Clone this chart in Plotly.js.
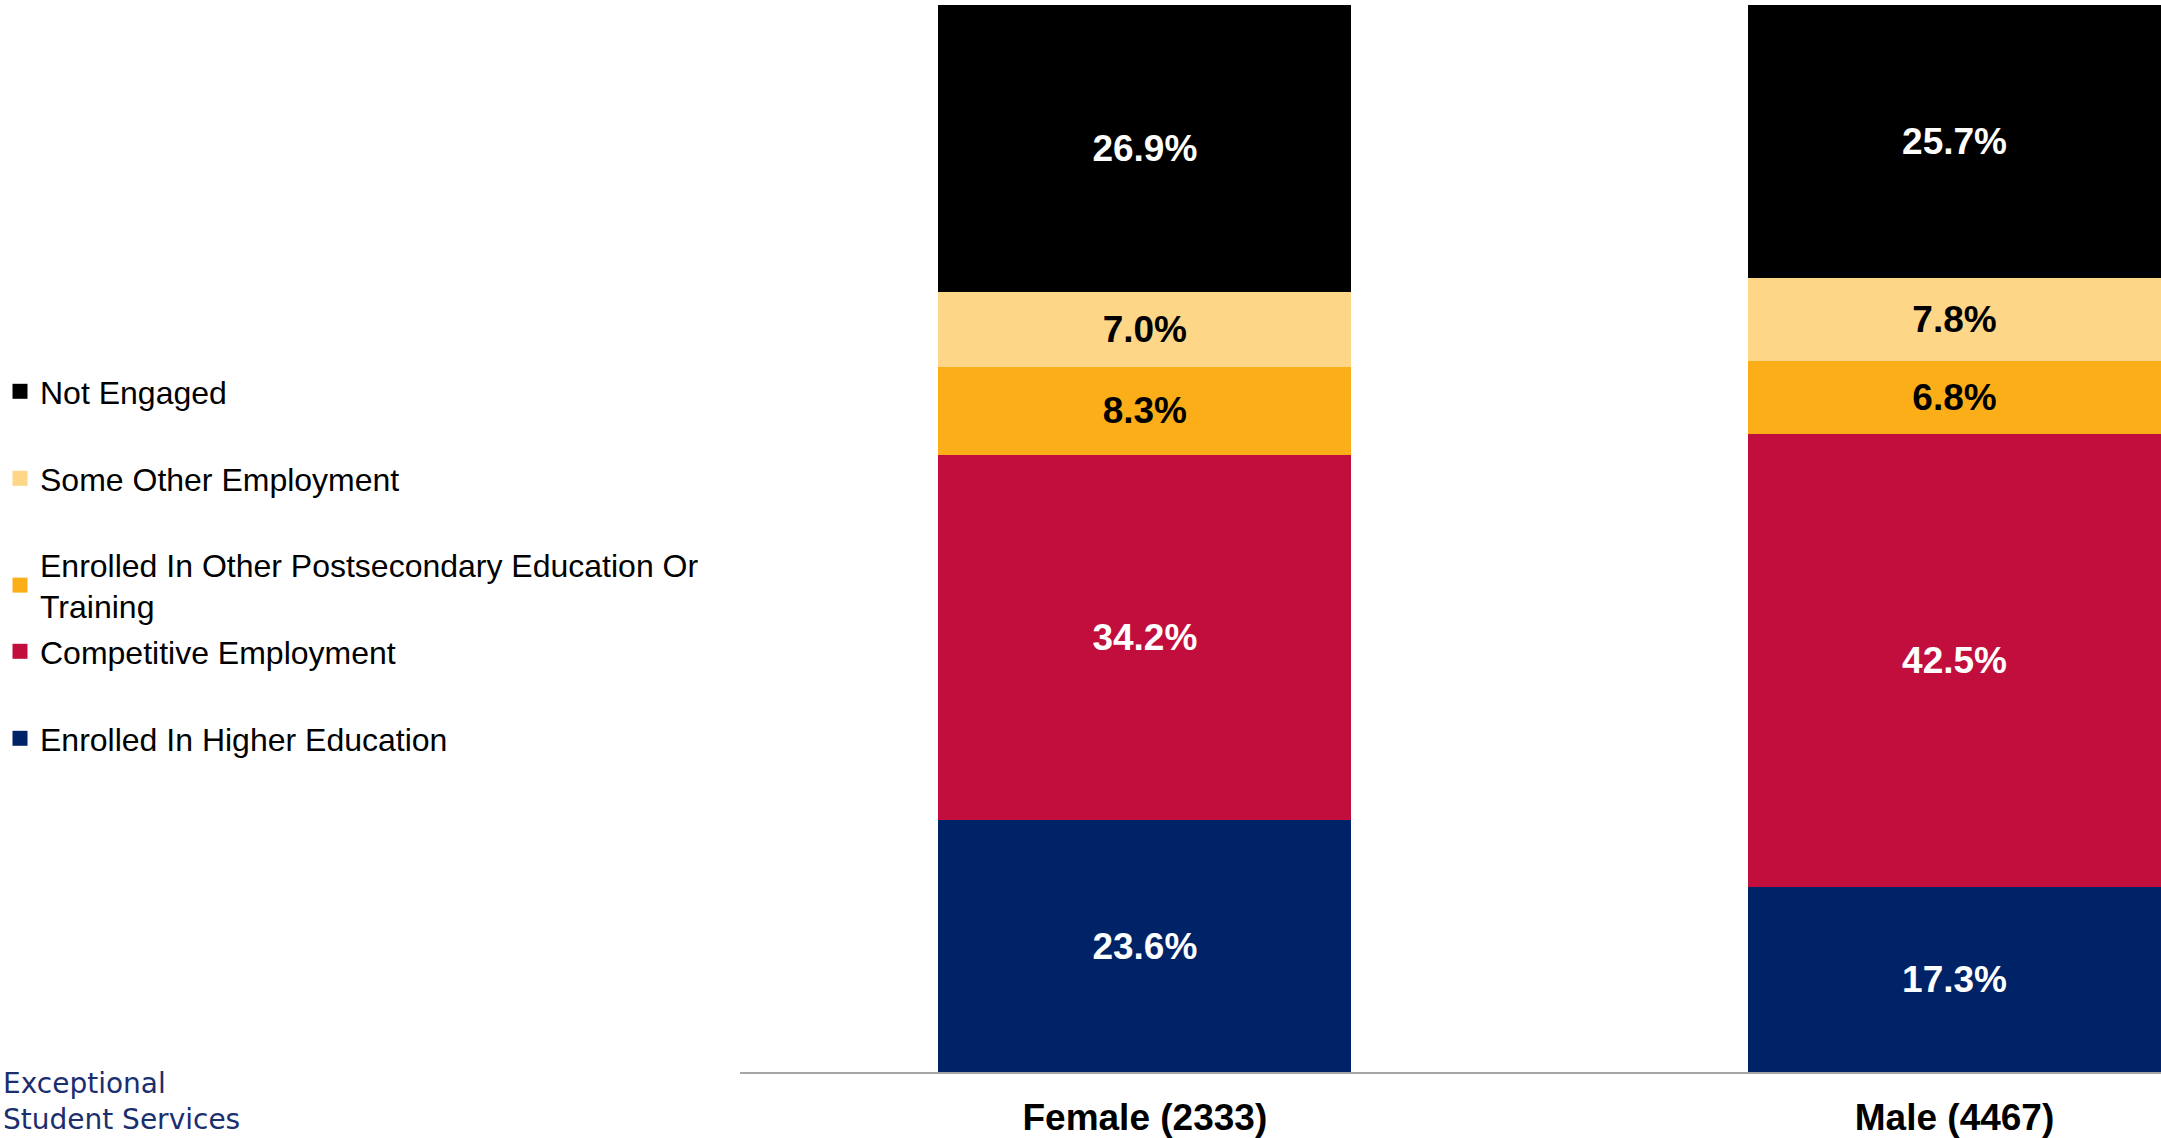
<!DOCTYPE html>
<html>
<head>
<meta charset="utf-8">
<script src="https://cdn.plot.ly/plotly-3.0.1.min.js"></script>
<style>html,body{margin:0;padding:0;background:#fff;}#chart{width:2161px;height:1138px;}</style>
</head>
<body>
<div id="chart"></div>
<script>
const categories = ["Female (2333)", "Male (4467)"];
const seriesNames = ["Enrolled In Higher Education", "Competitive Employment", "Enrolled In Other Postsecondary Education Or<br>Training", "Some Other Employment", "Not Engaged"];
const higherEd = [23.6, 17.3];
const competitive = [34.2, 42.5];
const otherPostsec = [8.3, 6.8];
const someOther = [7.0, 7.8];
const notEngaged = [26.9, 25.7];
const seriesValues = [higherEd, competitive, otherPostsec, someOther, notEngaged];
const colors = ["#002266", "#C20E3C", "#FBAE17", "#FDD687", "#000000"];
const textColors = ["#FFFFFF", "#FFFFFF", "#000000", "#000000", "#FFFFFF"];
const legendNames = ["legend5", "legend4", "legend3", "legend2", "legend"];
const legendY = [711, 624, 537, 451, 364];

const barTraces = seriesValues.map((vals, i) => ({
  type: "bar",
  name: seriesNames[i],
  x: categories,
  y: vals,
  text: vals.map(v => v.toFixed(1) + "%"),
  textposition: "inside",
  insidetextanchor: "middle",
  textangle: 0,
  constraintext: "none",
  textfont: {family: "Liberation Sans, Arial, sans-serif", size: 37, color: textColors[i], weight: "bold"},
  marker: {color: colors[i], line: {width: 0}},
  showlegend: false,
  hoverinfo: "skip"
}));

// legend entries (square keys) for the same series
const legendTraces = seriesValues.map((vals, i) => ({
  type: "scatter",
  mode: "markers",
  name: seriesNames[i],
  x: [null],
  y: [null],
  marker: {symbol: "square", size: 15, color: colors[i]},
  legend: legendNames[i],
  showlegend: true,
  hoverinfo: "skip"
}));

const H = 1138;
const layout = {
  width: 2161,
  height: 1138,
  margin: {l: 740, r: 0, t: 5, b: 66, pad: 0},
  paper_bgcolor: "#ffffff",
  plot_bgcolor: "#ffffff",
  barmode: "stack",
  bargap: 0.49,
  showlegend: true,
  font: {family: "Liberation Sans, Arial, sans-serif", color: "#000000"},
  xaxis: {
    type: "category",
    range: [-0.5, 1.255],
    showline: true, linecolor: "#A6A6A6", linewidth: 2,
    showgrid: false, zeroline: false, ticks: "",
    ticklabelstandoff: 12,
    tickfont: {family: "Liberation Sans, Arial, sans-serif", size: 37, color: "#000000", weight: "bold"},
    automargin: false,
    fixedrange: true
  },
  yaxis: {
    range: [0, 100],
    visible: false,
    showgrid: false, zeroline: false,
    fixedrange: true
  },
  annotations: [
    {xref: "paper", yref: "paper", x: -0.5199, y: (1072 - 1101) / 1067, xanchor: "left", yanchor: "middle", align: "left",
     text: "Exceptional<br>Student Services", showarrow: false,
     font: {family: "DejaVu Sans, sans-serif", size: 28, color: "#1B2E6E"}}
  ]
};
legendNames.forEach((ln, i) => {
  layout[ln] = {
    xref: "container", yref: "container",
    x: 0.0, y: 1 - legendY[i] / H,
    xanchor: "left", yanchor: "top",
    bgcolor: "rgba(0,0,0,0)",
    borderwidth: 0,
    itemsizing: "trace",
    font: {family: "Liberation Sans, Arial, sans-serif", size: 32, color: "#000000"},
    itemclick: false, itemdoubleclick: false
  };
});

Plotly.newPlot("chart", barTraces.concat(legendTraces), layout, {displayModeBar: false, staticPlot: true});
</script>
</body>
</html>
